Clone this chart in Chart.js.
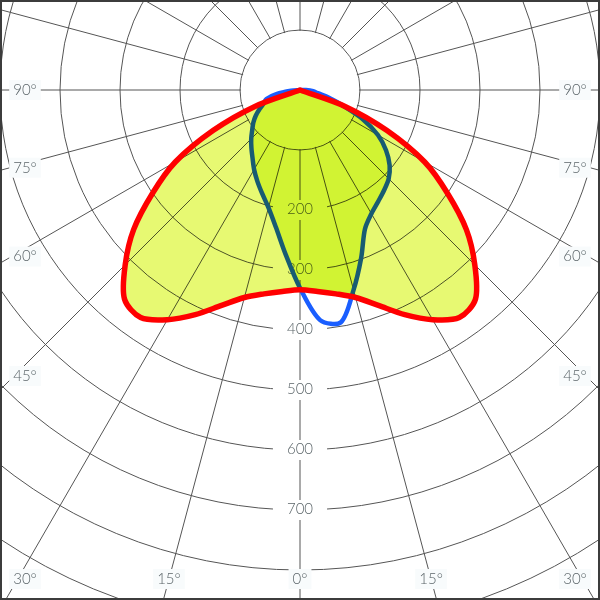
<!DOCTYPE html>
<html>
<head>
<meta charset="utf-8">
<script src="https://cdn.jsdelivr.net/npm/chart.js@4.4.1/dist/chart.umd.min.js"></script>
<style>
  html, body { margin: 0; padding: 0; background: #fff; }
  #wrap { position: relative; width: 600px; height: 600px; overflow: hidden; background: #fff; }
  #polar { position: absolute; left: -300px; top: -510px; }
  #frame { position: absolute; left: 0; top: 0; right: 0; bottom: 0; border: 2px solid #3c3c3c; pointer-events: none; }
</style>
</head>
<body>
<div id="wrap">
  <canvas id="polar" width="1200" height="1200"></canvas>
  <div id="frame"></div>
</div>
<script>
// C-plane angles (deg), clockwise on screen starting from nadir
const angles = [0,5,10,15,20,25,30,35,40,45,50,55,60,65,70,75,80,85,90,95,100,105,110,115,
  120,125,130,135,140,145,150,155,160,165,170,175,180,185,190,195,200,205,210,215,220,225,230,235,
  240,245,250,255,260,265,270,275,280,285,290,295,300,305,310,315,320,325,330,335,340,345,350,355]

// luminous intensity (cd/klm)
const curveRed = [333,337,345,358,382,413,442,463,455,412,362,300,240,160,80,
  0,0,0,0,0,0,0,0,0,0,0,0,0,0,0,0,0,0,0,0,0,0,0,0,0,0,0,0,0,0,0,0,0,0,0,0,0,0,0,0,0,0,0,
  80,160,240,300,362,412,455,463,442,413,382,358,345,337]

const curveBlue = [330,275,232,203,184,168,153,138,126,115,104,95,85,74,64,58,40,15,0,
  0,0,0,0,0,0,0,0,0,0,0,0,0,0,0,0,0,0,0,0,0,0,0,0,0,0,0,0,0,0,0,0,0,0,0,
  10,22,30,50,76,116,150,175,195,209,218,227,238,256,298,345,393,385]

const ringLabels = [200,300,400,500,600,700]
const edgeAngles = [0,15,30,45,60,75,90]

// canvas is bigger than the window, shifted so the pole sits near the top
const OFF_X = 300
const OFF_Y = 510
const fillYellow = 'rgb(231,249,114)'
const labelColor = '#5b6569'
const gridColor = '#555555'
const labelFont = '300 15px Lato, "Open Sans", sans-serif'

const polarDeco = {
  id: 'polarDeco',
  beforeDatasetsDraw(chart) {
    const sc = chart.scales.r
    const ctx = chart.ctx
    const cx = sc.xCenter, cy = sc.yCenter
    ctx.save()
    // empty hub inside the first ring
    ctx.fillStyle = '#fff'
    ctx.beginPath()
    ctx.arc(cx, cy, sc.getDistanceFromCenterForValue(100) - 1, 0, Math.PI * 2)
    ctx.fill()

    ctx.font = labelFont
    ctx.textAlign = 'center'
    ctx.textBaseline = 'middle'
    ringLabels.forEach(v => {
      const y = cy + sc.getDistanceFromCenterForValue(v)
      const txt = String(v)
      const w = ctx.measureText(txt).width + 28
      ctx.fillStyle = '#fff'
      ctx.fillRect(cx - w / 2, y - 10, w, 20)
      ctx.fillStyle = labelColor
      ctx.fillText(txt, cx, y - 1)
    })

    // angle labels along the window border
    const hx = cx - (OFF_X + 25)
    const vy = (OFF_Y + 579) - cy
    edgeAngles.forEach(g => {
      [-1, 1].forEach(s => {
        if (g === 0 && s === 1) return
        const a = g * Math.PI / 180
        const sn = Math.sin(a), cs = Math.cos(a)
        const tSide = sn > 1e-6 ? hx / sn : Infinity
        const tBot = cs > 1e-6 ? vy / cs : Infinity
        let x, y
        if (tBot <= tSide) {
          x = cx + s * tBot * sn
          y = cy + vy
        } else {
          x = cx + s * hx
          y = Math.min(cy + tSide * cs + 15.5 * cs, cy + vy)
        }
        const txt = g + '\u00B0'
        const w = ctx.measureText(txt).width + 8
        ctx.fillStyle = '#f8fbfc'
        ctx.fillRect(x - w / 2, y - 10, w, 20)
        ctx.fillStyle = labelColor
        ctx.fillText(txt, x, y)
      })
    })
    ctx.restore()
  },
  beforeDatasetDraw(chart, args) {
    const ctx = chart.ctx
    const red = chart.getDatasetMeta(0).dataset
    const blue = chart.getDatasetMeta(1).dataset
    ctx.save()
    ctx.globalCompositeOperation = 'multiply'
    ctx.fillStyle = fillYellow
    if (args.index === 1) {
      // overlap of both distributions gets a second coat
      ctx.beginPath(); red.path(ctx); ctx.closePath(); ctx.clip()
      ctx.beginPath(); blue.path(ctx); ctx.closePath(); ctx.fill()
    } else if (args.index === 0) {
      ctx.beginPath(); red.path(ctx); ctx.closePath(); ctx.fill()
    }
    ctx.restore()
  }
}

const chart = new Chart(document.getElementById('polar'), {
  type: 'radar',
  data: {
    labels: angles,
    datasets: [{
      label: 'C0-C180',
      data: curveRed,
      borderColor: '#ff0000',
      borderWidth: 5.5,
      fill: false
    }, {
      label: 'C90-C270',
      data: curveBlue,
      borderColor: '#1a5eff',
      borderWidth: 4.5,
      fill: false
    }]
  },
  options: {
    responsive: false,
    animation: false,
    layout: { padding: 0 },
    elements: {
      point: { radius: 0, hoverRadius: 0 },
      line: { tension: 0.3, borderJoinStyle: 'round' }
    },
    plugins: {
      legend: { display: false },
      tooltip: { enabled: false }
    },
    scales: {
      r: {
        min: 0,
        max: 1000,
        startAngle: 180,
        ticks: { display: false, stepSize: 100 },
        pointLabels: { display: false },
        grid: { circular: true, color: gridColor, lineWidth: 1 },
        angleLines: {
          color: gridColor,
          lineWidth: c => c.index % 3 === 0 ? 1 : 0
        }
      }
    }
  },
  plugins: [polarDeco]
})
</script>
</body>
</html>
